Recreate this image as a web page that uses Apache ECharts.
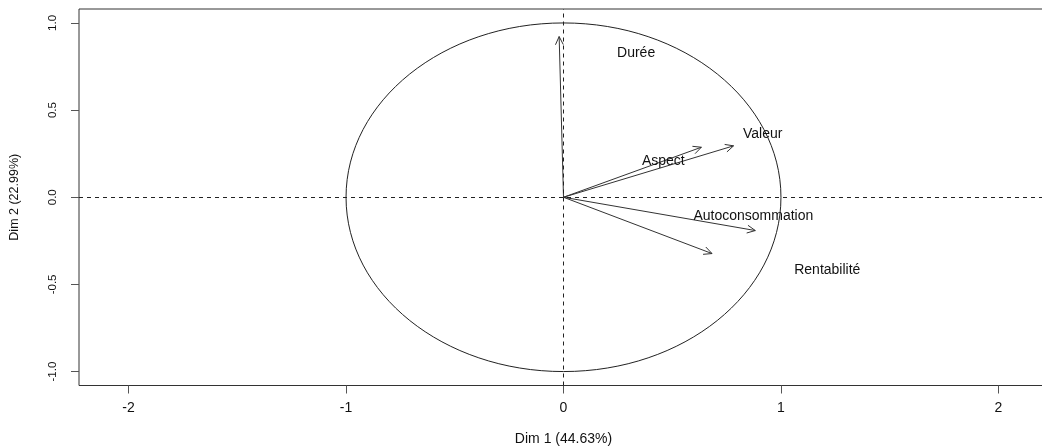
<!DOCTYPE html>
<html>
<head>
<meta charset="utf-8">
<script src="https://cdn.jsdelivr.net/npm/echarts@6/dist/echarts.min.js"></script>
<style>
  html, body { margin: 0; padding: 0; background: #fff; }
  #chart { width: 1042px; height: 447px; }
</style>
</head>
<body>
<div id="chart"></div>
<script>
// Variables factor map: correlation of each variable with the first two dimensions
const varNames = ['Durée', 'Aspect', 'Valeur', 'Autoconsommation', 'Rentabilité'];
const dim1 = [-0.02, 0.634, 0.782, 0.882, 0.683];
const dim2 = [0.922, 0.287, 0.295, -0.191, -0.323];
// where each variable name is written (in factor coordinates)
const labelDim1 = [0.334, 0.459, 0.916, 0.873, 1.213];
const labelDim2 = [0.824, 0.207, 0.364, -0.109, -0.421];

const xTicks = [-2, -1, 0, 1, 2];
const yTicks = [-1, -0.5, 0, 0.5, 1];
const xTitle = 'Dim 1 (44.63%)';
const yTitle = 'Dim 2 (22.99%)';

const FONT = '"Liberation Sans", Arial, sans-serif';

const arrowData = varNames.map((n, i) => ({ name: n, value: [dim1[i], dim2[i]] }));
const labelData = varNames.map((n, i) => ({ name: n, value: [labelDim1[i], labelDim2[i]] }));

const chart = echarts.init(document.getElementById('chart'), null, { renderer: 'canvas' });

chart.setOption({
  animation: false,
  backgroundColor: '#fff',
  grid: {
    left: 79, top: 9, bottom: 61.5, right: -6,
    outerBoundsMode: 'none', containLabel: false,
    show: true, borderColor: '#333', borderWidth: 1, backgroundColor: 'transparent'
  },
  xAxis: {
    type: 'value', min: -2.228, max: 2.228,
    axisLine: { show: false, onZero: false },
    splitLine: { show: false },
    axisTick: { show: true, length: 8, inside: false, customValues: xTicks, lineStyle: { color: '#555' } },
    axisLabel: {
      customValues: xTicks, margin: 16, color: '#111', fontSize: 14, fontFamily: FONT,
      formatter: v => String(v)
    },
    name: xTitle, nameLocation: 'middle', nameGap: 47,
    nameTextStyle: { color: '#111', fontSize: 14, fontFamily: FONT }
  },
  yAxis: {
    type: 'value', min: -1.08, max: 1.08,
    axisLine: { show: false, onZero: false },
    splitLine: { show: false },
    axisTick: { show: true, length: 8, inside: false, customValues: yTicks, lineStyle: { color: '#555' } },
    axisLabel: {
      customValues: yTicks, rotate: 90, margin: 20, color: '#111', fontSize: 11.5, fontFamily: FONT,
      formatter: v => v.toFixed(1)
    },
    name: yTitle, nameLocation: 'middle', nameGap: 58, nameRotate: 90,
    nameTextStyle: { color: '#111', fontSize: 12.5, fontFamily: FONT }
  },
  series: [
    {
      // dashed reference lines through the origin
      type: 'line', data: [], silent: true,
      markLine: {
        silent: true, symbol: ['none', 'none'], animation: false,
        label: { show: false },
        lineStyle: { color: '#222', width: 1, type: [4, 4] },
        data: [{ xAxis: 0 }, { yAxis: 0 }]
      }
    },
    {
      // correlation circle of radius 1
      type: 'custom', silent: true, clip: false,
      data: [[0, 0, 1]],
      renderItem: function (params, api) {
        const c = api.coord([api.value(0), api.value(1)]);
        const s = api.size([api.value(2), api.value(2)]);
        return {
          type: 'ellipse',
          shape: { cx: c[0], cy: c[1], rx: s[0], ry: s[1] },
          style: { fill: null, stroke: '#222', lineWidth: 1 }
        };
      }
    },
    {
      // arrows from the origin to each variable
      type: 'custom', silent: true, clip: false,
      data: arrowData,
      renderItem: function (params, api) {
        const o = api.coord([0, 0]);
        const t = api.coord([api.value(0), api.value(1)]);
        const ang = Math.atan2(t[1] - o[1], t[0] - o[0]);
        const L = 9, a = Math.PI / 7;
        const h1 = [t[0] - L * Math.cos(ang - a), t[1] - L * Math.sin(ang - a)];
        const h2 = [t[0] - L * Math.cos(ang + a), t[1] - L * Math.sin(ang + a)];
        const st = { stroke: '#333', lineWidth: 1, fill: null };
        return {
          type: 'group',
          children: [
            { type: 'line', shape: { x1: o[0], y1: o[1], x2: t[0], y2: t[1] }, style: st },
            { type: 'polyline', shape: { points: [h1, t, h2] }, style: st }
          ]
        };
      }
    },
    {
      // variable names
      type: 'custom', silent: true, clip: false,
      data: labelData,
      renderItem: function (params, api) {
        const p = api.coord([api.value(0), api.value(1)]);
        return {
          type: 'text',
          x: p[0], y: p[1],
          style: {
            text: labelData[params.dataIndex].name,
            fill: '#111', font: '14px ' + FONT,
            textAlign: 'center', textVerticalAlign: 'middle'
          }
        };
      }
    }
  ]
});
</script>
</body>
</html>
